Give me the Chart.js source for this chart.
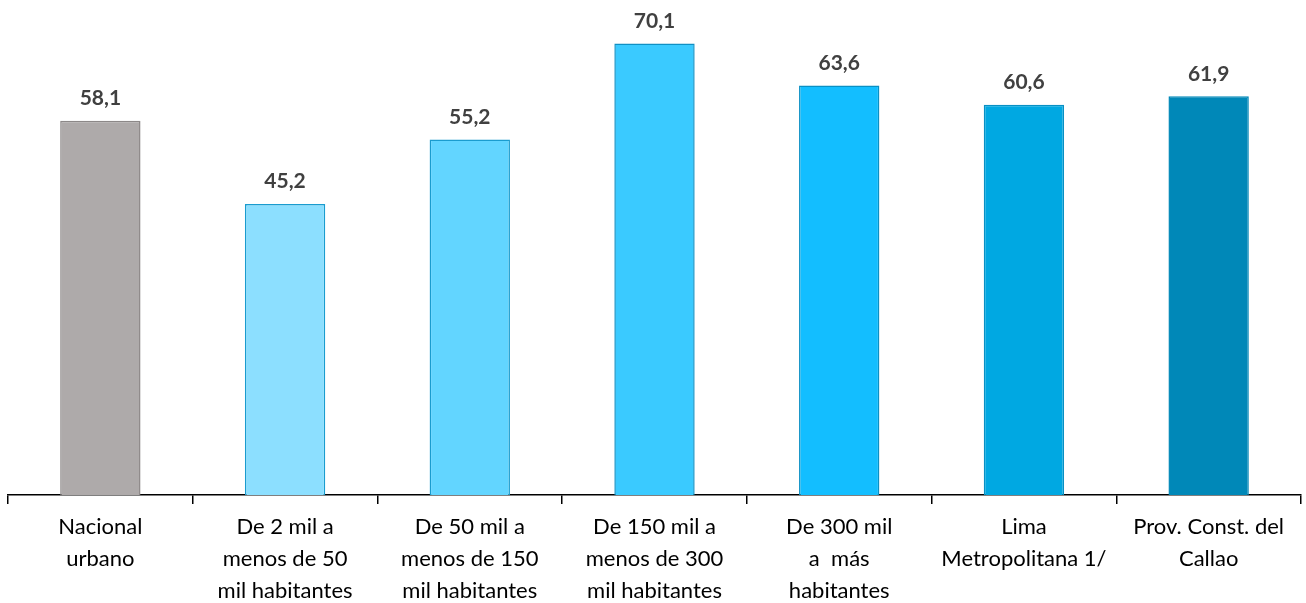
<!DOCTYPE html>
<html>
<head>
<meta charset="utf-8">
<script src="https://cdn.jsdelivr.net/npm/chart.js@4"></script>
<style>
  html, body { margin: 0; padding: 0; background: #fff; }
  #wrap { width: 1306px; height: 603px; }
</style>
</head>
<body>
<div id="wrap"><canvas id="chart"></canvas></div>
<script>
// Categories (multi-line labels as shown under the axis)
const categories = [
  ['Nacional', 'urbano'],
  ['De 2 mil a', 'menos de 50', 'mil habitantes'],
  ['De 50 mil a', 'menos de 150', 'mil habitantes'],
  ['De 150 mil a', 'menos de 300', 'mil habitantes'],
  ['De 300 mil', 'a  más', 'habitantes'],
  ['Lima', 'Metropolitana 1/'],
  ['Prov. Const. del', 'Callao']
];
const values = [58.1, 45.2, 55.2, 70.1, 63.6, 60.6, 61.9];
const fillColors = ['#AEAAAA', '#8CDFFF', '#62D5FF', '#3ACAFF', '#13BEFF', '#00A8E2', '#0088B8'];
const edgeColors = ['#8C8888', '#1A9CCF', '#1A9CCF', '#1090C4', '#0A90C4', '#0890C4', '#0088B8'];

// Draws the value above each bar, with a comma as decimal mark
const valueLabels = {
  id: 'valueLabels',
  afterDatasetsDraw(chart) {
    const ctx = chart.ctx;
    const meta = chart.getDatasetMeta(0);
    ctx.save();
    ctx.font = 'bold 21px Lato';
    ctx.fillStyle = '#404040';
    ctx.textAlign = 'center';
    ctx.textBaseline = 'bottom';
    meta.data.forEach((bar, i) => {
      ctx.fillText(values[i].toFixed(1).replace('.', ','), bar.x, bar.y - 12);
    });
    ctx.restore();
  }
};

new Chart(document.getElementById('chart'), {
  type: 'bar',
  data: {
    labels: categories,
    datasets: [{
      data: values,
      backgroundColor: fillColors,
      borderColor: edgeColors,
      borderWidth: 1.5,
      barPercentage: 0.87,
      categoryPercentage: 0.5
    }]
  },
  options: {
    responsive: true,
    maintainAspectRatio: false,
    animation: false,
    layout: { padding: { left: 8, right: 5, top: 12, bottom: -11 } },
    plugins: {
      legend: { display: false },
      tooltip: { enabled: false }
    },
    scales: {
      x: {
        offset: true,
        grid: {
          offset: true,
          drawOnChartArea: false,
          drawTicks: true,
          tickLength: 9,
          color: '#000',
          lineWidth: 1.5
        },
        border: { display: true, color: '#000', width: 1.5 },
        ticks: {
          color: '#000',
          font: { family: 'Lato', size: 22, lineHeight: '32px' },
          padding: 7,
          maxRotation: 0,
          autoSkip: false
        }
      },
      y: {
        display: false,
        min: 0,
        max: 75
      }
    }
  },
  plugins: [valueLabels]
});
</script>
</body>
</html>
